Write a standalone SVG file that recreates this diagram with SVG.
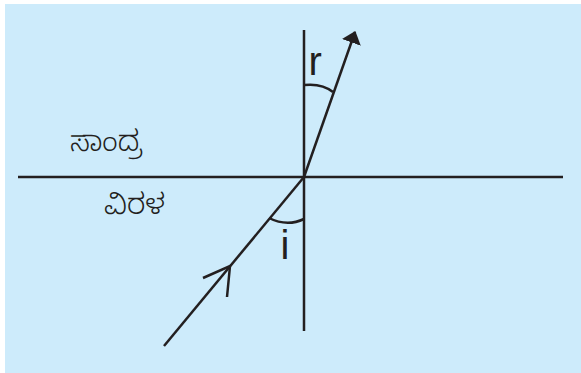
<svg xmlns="http://www.w3.org/2000/svg" width="581" height="373" viewBox="0 0 581 373">
<style>
.ln{stroke:#231f20;stroke-width:2.5;fill:none;stroke-linecap:butt}
.lbl{font-family:"Liberation Sans",Arial,sans-serif;fill:#231f20}
.kn{font-family:"Noto Sans Kannada","Noto Serif Kannada","Noto Sans",sans-serif;fill:#231f20;font-weight:300}
</style>
<defs>
<marker id="tri" markerWidth="12" markerHeight="20" refX="11" refY="10" orient="auto" markerUnits="userSpaceOnUse">
<path d="M0,0 L12,10 L0,20 Z" fill="#231f20"/>
</marker>
</defs>
<rect x="5" y="4" width="576" height="369" fill="#cdebfb"/>
<g id="surfaces">
<line class="ln" x1="18" y1="177" x2="563" y2="177"/>
<line class="ln" x1="304" y1="30" x2="304" y2="331"/>
</g>
<g id="connectors">
<line id="incident" class="ln" x1="164" y1="346" x2="304" y2="177"/>
<path class="ln" d="M203,278 L230,266 L227,297"/>
<line id="refracted" class="ln" x1="304" y1="177" x2="355" y2="32" marker-end="url(#tri)"/>
<path id="arc-i" class="ln" d="M269,218 Q287,227 304,219"/>
<path id="arc-r" class="ln" d="M304,85 Q322,83 333,92"/>
</g>
<g id="labels">
<text class="lbl" x="308.5" y="75" font-size="40">r</text>
<text class="lbl" x="280.5" y="259" font-size="40">i</text>
<text class="kn" x="70" y="151" font-size="29">ಸಾಂದ್ರ</text>
<text class="kn" x="104" y="214" font-size="29">ವಿರಳ</text>
</g>
</svg>
